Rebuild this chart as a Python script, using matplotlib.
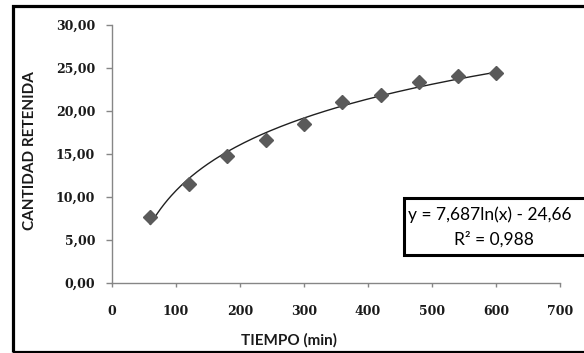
import matplotlib.pyplot as plt
import numpy as np
from matplotlib.patches import Rectangle
from matplotlib.ticker import FuncFormatter

# data
tiempo = [60, 120, 180, 240, 300, 360, 420, 480, 540, 600]
cantidad = [7.7, 11.5, 14.8, 16.6, 18.5, 21.0, 21.9, 23.4, 24.1, 24.4]

# log trend line from the box
coef_a = 7.687
coef_b = -24.66
r2_text = "0,988"

fig = plt.figure(figsize=(5.84, 3.53), dpi=100)
ax = fig.add_axes([112 / 584, 70 / 353, 448 / 584, 258 / 353])

xs = np.linspace(min(tiempo), max(tiempo), 200)
ax.plot(xs, coef_a * np.log(xs) + coef_b, color='#202020', lw=1.0, zorder=2)
ax.plot(tiempo, cantidad, linestyle='none', marker='D', ms=7.5,
        color='#5a5a5a', zorder=3)

ax.set_xlim(0, 700)
ax.set_ylim(0, 30)
ax.set_xticks(range(0, 701, 100))
ax.set_yticks(range(0, 31, 5))
ax.yaxis.set_major_formatter(FuncFormatter(lambda v, p: f"{v:.2f}".replace('.', ',')))

for s in ['top', 'right']:
    ax.spines[s].set_visible(False)
for s in ['left', 'bottom']:
    ax.spines[s].set_color('#868686')
    ax.spines[s].set_linewidth(1.0)
ax.tick_params(direction='out', width=1, color='#868686', labelcolor='#1a1a1a')
ax.tick_params(axis='y', length=4.2, pad=8)
ax.tick_params(axis='x', length=3, pad=13)
for lbl in ax.get_xticklabels() + ax.get_yticklabels():
    lbl.set_family('DejaVu Serif')
    lbl.set_fontweight('bold')
    lbl.set_fontsize(9)

ax.set_xlabel('TIEMPO (min)', family='Lato', fontweight='bold', fontsize=11,
              color='#1a1a1a')
ax.xaxis.set_label_coords((289 - 112) / 448, -(340 - 283) / 258)
ax.xaxis.label.set_va('center')
ax.set_ylabel('CANTIDAD RETENIDA', family='Lato', fontweight='bold', fontsize=11,
              color='#1a1a1a')
ax.yaxis.set_label_coords(-(112 - 30) / 448, (283 - 151) / 258)
ax.yaxis.label.set_va('center')

# equation box
fig.patches.append(Rectangle((404 / 584, (353 - 255) / 353), 260 / 584, 57 / 353,
                             transform=fig.transFigure, fill=True, facecolor='white',
                             edgecolor='black', lw=2.2, zorder=5))
eq = f"y = {coef_a:.3f}ln(x) - {abs(coef_b):.2f}".replace('.', ',')
fig.text(408 / 584, (353 - 215) / 353, eq, family='Lato', fontsize=12.5,
         ha='left', va='center', zorder=6)
fig.text(494 / 584, (353 - 239) / 353, "R² = " + r2_text, family='Lato',
         fontsize=12.5, ha='center', va='center', zorder=6)

# outer chart frame
fig.patches.append(Rectangle((12.5 / 584, 1.5 / 353), 640 / 584, 346 / 353,
                             transform=fig.transFigure, fill=False,
                             edgecolor='black', lw=2.3, zorder=10))

fig.savefig('out.png', dpi=100)
